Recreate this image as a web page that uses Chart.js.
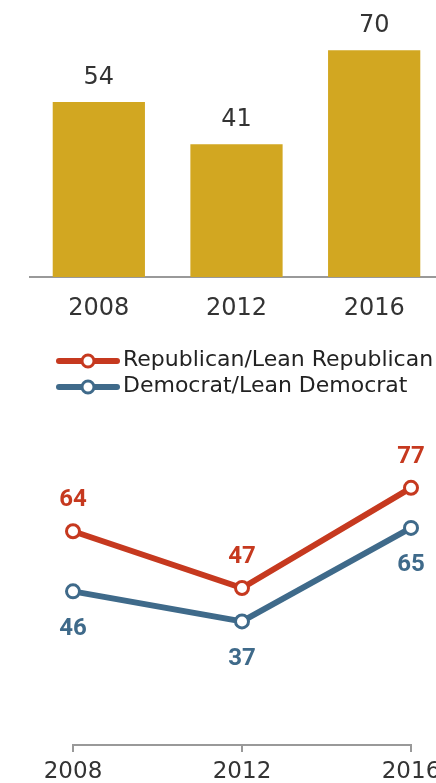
<!DOCTYPE html>
<html>
<head>
<meta charset="utf-8">
<script src="https://cdn.jsdelivr.net/npm/chart.js@4"></script>
<style>
  html, body { margin: 0; padding: 0; background: #fff; overflow: hidden; width: 436px; height: 783px; }
  #barBox { position: absolute; left: 0; top: 0; width: 460px; height: 330px; }
  #lineBox { position: absolute; left: 0; top: 330px; width: 460px; height: 453px; }
</style>
</head>
<body>
<div id="barBox"><canvas id="barChart"></canvas></div>
<div id="lineBox"><canvas id="lineChart"></canvas></div>
<script>
const years = ['2008', '2012', '2016'];
const allValues = [54, 41, 70];
const repValues = [64, 47, 77];
const demValues = [46, 37, 65];
const seriesNames = ['Republican/Lean Republican', 'Democrat/Lean Democrat'];

const GOLD = '#d2a721';
const RED = '#c6391f';
const BLUE = '#3f6a8a';

// value above each bar
const barLabels = {
  id: 'barLabels',
  afterDatasetsDraw(chart) {
    const ctx = chart.ctx;
    ctx.save();
    ctx.font = '24px "DejaVu Sans"';
    ctx.fillStyle = '#333';
    ctx.textAlign = 'center';
    ctx.textBaseline = 'alphabetic';
    chart.getDatasetMeta(0).data.forEach((bar, i) => {
      ctx.fillText(chart.data.datasets[0].data[i], bar.x, bar.y - 18);
    });
    ctx.restore();
  }
};

// rep values above the points, dem values below
const pointLabels = {
  id: 'pointLabels',
  afterDatasetsDraw(chart) {
    const ctx = chart.ctx;
    ctx.save();
    ctx.font = 'bold 24px Roboto';
    ctx.textAlign = 'center';
    ctx.textBaseline = 'alphabetic';
    chart.data.datasets.forEach((ds, d) => {
      ctx.fillStyle = ds.borderColor;
      chart.getDatasetMeta(d).data.forEach((pt, i) => {
        const dy = d === 0 ? -25 : 43.5;
        ctx.fillText(ds.data[i], pt.x, pt.y + dy);
      });
    });
    ctx.restore();
  }
};

// line + circle legend in the top left of the line chart
const lineLegend = {
  id: 'lineLegend',
  afterDraw(chart) {
    const ctx = chart.ctx;
    ctx.save();
    chart.data.datasets.forEach((ds, d) => {
      const y = 31 + d * 26;
      ctx.strokeStyle = ds.borderColor;
      ctx.lineWidth = 6;
      ctx.lineCap = 'round';
      ctx.beginPath();
      ctx.moveTo(59, y);
      ctx.lineTo(117, y);
      ctx.stroke();
      ctx.beginPath();
      ctx.arc(88, y, 6, 0, Math.PI * 2);
      ctx.fillStyle = '#fff';
      ctx.fill();
      ctx.lineWidth = 3;
      ctx.stroke();
      ctx.fillStyle = '#222';
      ctx.font = '22px "DejaVu Sans"';
      ctx.textBaseline = 'middle';
      ctx.textAlign = 'left';
      ctx.fillText(ds.label, 123, y - 1);
    });
    ctx.restore();
  }
};

new Chart(document.getElementById('barChart'), {
  type: 'bar',
  data: {
    labels: years,
    datasets: [{
      data: allValues,
      backgroundColor: GOLD,
      barPercentage: 0.67,
      categoryPercentage: 1
    }]
  },
  options: {
    responsive: true,
    maintainAspectRatio: false,
    animation: false,
    layout: { padding: { left: 30, right: 17, top: 0, bottom: 0 } },
    plugins: { legend: { display: false }, tooltip: { enabled: false } },
    scales: {
      y: { display: false, min: 0, max: 85.5 },
      x: {
        grid: { display: false, drawTicks: false },
        border: { display: true, color: '#999', width: 2 },
        ticks: { color: '#333', font: { family: 'DejaVu Sans', size: 24 }, padding: 17, autoSkip: false, maxRotation: 0 },
        afterFit(scale) { scale.height = 53; }
      }
    }
  },
  plugins: [barLabels]
});

new Chart(document.getElementById('lineChart'), {
  type: 'line',
  data: {
    labels: years,
    datasets: [
      {
        label: seriesNames[0],
        data: repValues,
        borderColor: RED,
        borderWidth: 6,
        pointRadius: 6.5,
        pointBorderWidth: 3,
        pointBackgroundColor: '#fff',
        pointBorderColor: RED,
        clip: false
      },
      {
        label: seriesNames[1],
        data: demValues,
        borderColor: BLUE,
        borderWidth: 6,
        pointRadius: 6.5,
        pointBorderWidth: 3,
        pointBackgroundColor: '#fff',
        pointBorderColor: BLUE,
        clip: false
      }
    ]
  },
  options: {
    responsive: true,
    maintainAspectRatio: false,
    animation: false,
    layout: { padding: { left: 73, right: 49, top: 81, bottom: 0 } },
    plugins: { legend: { display: false }, tooltip: { enabled: false } },
    scales: {
      y: { display: false, min: 0, max: 100 },
      x: {
        offset: false,
        grid: { display: true, drawOnChartArea: false, drawTicks: true, tickLength: 7, color: '#999', lineWidth: 2 },
        border: { display: true, color: '#999', width: 2 },
        ticks: { color: '#333', font: { family: 'DejaVu Sans', size: 23 }, padding: 6, autoSkip: false, maxRotation: 0 },
        afterFit(scale) { scale.height = 38; }
      }
    }
  },
  plugins: [pointLabels, lineLegend]
});
</script>
</body>
</html>
